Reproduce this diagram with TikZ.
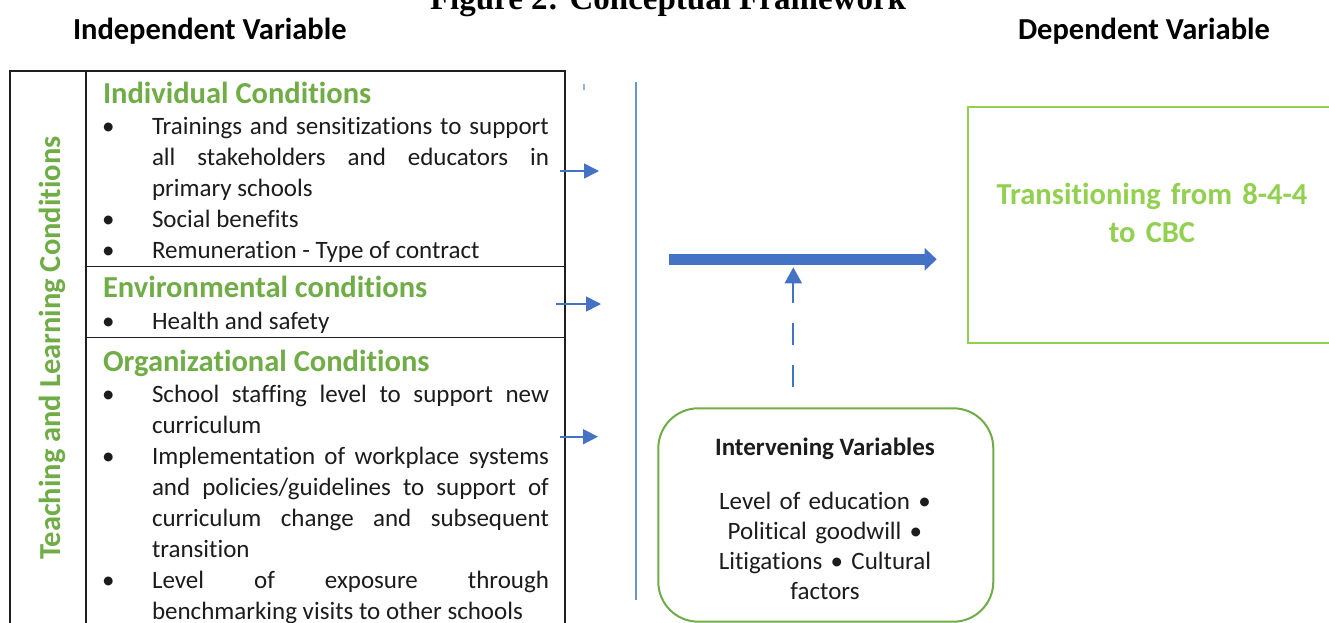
\documentclass[tikz,border=0pt]{standalone}
\usepackage{fontspec}
\setmainfont{Carlito}[Ligatures=NoCommon]
\newfontfamily\titlefont{Liberation Serif}
\usetikzlibrary{arrows.meta}

\definecolor{hgreen}{HTML}{70AD47}
\definecolor{lgreen}{HTML}{92D050}
\definecolor{ablue}{HTML}{4472C4}
\definecolor{vblue}{HTML}{6A92DA}
\definecolor{ink}{HTML}{1C1C1C}

% one justified line of a bullet item
\newcommand{\jline}[1]{\makebox[\linewidth][s]{#1}}

\begin{document}
\begin{tikzpicture}[x=1pt, y=-1pt,
  every node/.style={inner sep=0pt, outer sep=0pt},
  bigbold/.style={font=\fontsize{30.5}{38.3}\selectfont\bfseries},
  header/.style={bigbold, text=black, anchor=base west},
  heading/.style={bigbold, text=hgreen, anchor=base west},
  bodytext/.style={font=\fontsize{25}{30.9}\selectfont, text=ink},
  itemtext/.style={bodytext, anchor=base west, text width=397pt, align=justify},
  dot/.style={bodytext, anchor=base west},
  frame/.style={draw=black!88, line width=1.5pt},
  smallarrow/.style={ablue, line width=1.6pt, -{Triangle[length=15pt, width=15pt]}},
]
\useasboundingbox (0,0) rectangle (1329,623);
\clip (0,0) rectangle (1329,623);
\fill[white] (0,0) rectangle (1329,623);

% title and column headers
\node[font=\titlefont\bfseries\fontsize{33}{36}\selectfont, anchor=base] (title) at (668,10) {Figure 2: Conceptual Framework};
\node[header] (indep) at (73,40) {Independent Variable};
\node[header] (dep) at (1018,40) {Dependent Variable};

% frame of the independent-variable table
\draw[frame] (10,71) rectangle (565,660);
\draw[frame] (86,71) -- (86,660);
\draw[frame] (86,266.7) -- (565,266.7);
\draw[frame] (86,337.7) -- (565,337.7);

\node[bigbold, text=hgreen, rotate=90, anchor=base] (tlc) at (60,348) {Teaching and Learning Conditions};

% individual conditions
\node[heading] (h1) at (103,103.5) {Individual Conditions};
\node[dot] (b11) at (102,135) {\textbullet};
\node[itemtext] (t11) at (152,135) {\jline{Trainings and sensitizations to support}\\\jline{all stakeholders and educators in}\\primary schools};
\node[dot] (b12) at (102,227.4) {\textbullet};
\node[itemtext] (t12) at (152,227.4) {Social benefits};
\node[dot] (b13) at (102,258.2) {\textbullet};
\node[itemtext] (t13) at (152,258.2) {Remuneration - Type of contract};

% environmental conditions
\node[heading] (h2) at (103,297.5) {Environmental conditions};
\node[dot] (b21) at (102,329.3) {\textbullet};
\node[itemtext] (t21) at (152,329.3) {Health and safety};

% organizational conditions
\node[heading] (h3) at (103,371) {Organizational Conditions};
\node[dot] (b31) at (102,402.7) {\textbullet};
\node[itemtext] (t31) at (152,402.7) {\jline{School staffing level to support new}\\curriculum};
\node[dot] (b32) at (102,464.5) {\textbullet};
\node[itemtext] (t32) at (152,464.5) {\jline{Implementation of workplace systems}\\\jline{and policies/guidelines to support of}\\\jline{curriculum change and subsequent}\\transition};
\node[dot] (b33) at (102,588.1) {\textbullet};
\node[itemtext] (t33) at (152,588.1) {\jline{Level of exposure through}\\benchmarking visits to other schools};

% arrows out of the table
\coordinate (a1s) at (560,171);   \coordinate (a1e) at (599,171);
\coordinate (a2s) at (556,304);   \coordinate (a2e) at (601,304);
\coordinate (a3s) at (560,436.7); \coordinate (a3e) at (598,436.7);
\draw[smallarrow] (a1s) -- (a1e);
\draw[smallarrow] (a2s) -- (a2e);
\draw[smallarrow] (a3s) -- (a3e);

\coordinate (tick1) at (584,84); \coordinate (tick2) at (584,90);
\draw[vblue!70, line width=1.5pt] (tick1) -- (tick2);

% dividing line
\coordinate (vtop) at (636,81.7); \coordinate (vbot) at (636,600);
\draw[vblue, line width=2pt] (vtop) -- (vbot);

% main effect arrow
\coordinate (ms) at (669.3,259.3); \coordinate (me) at (936.7,259.3);
\draw[ablue, line width=10.7pt, -{Triangle[length=12pt, width=22pt]}] (ms) -- (me);

% intervening variables
\node[draw=hgreen, line width=2pt, rounded corners=40pt, minimum width=335pt, minimum height=213.4pt] (ivbox) at (825.8,515) {};
\node[bodytext, font=\fontsize{25}{30.9}\selectfont\bfseries, anchor=base] (ivtitle) at (825,455) {Intervening Variables};
\node[bodytext, font=\fontsize{25}{30}\selectfont, anchor=base, text width=300pt, align=center] (ivlist) at (825,509)
  {Level of education \textbullet\\Political goodwill \textbullet\\Litigations \textbullet{} Cultural\\factors};

\coordinate (ds) at (793.3,387); \coordinate (de) at (793.3,267.3);
\draw[ablue, line width=2pt, dash pattern=on 22pt off 20pt, -{Triangle[length=16pt, width=17pt]}] (ds) -- (de);

% dependent variable
\draw[lgreen, line width=2pt] (967.7,106.7) rectangle (1345,343.3);
\node[bigbold, text=lgreen, anchor=base, text width=360pt, align=center] (dv) at (1152,204) {Transitioning from 8-4-4\\to CBC};
\end{tikzpicture}
\end{document}
